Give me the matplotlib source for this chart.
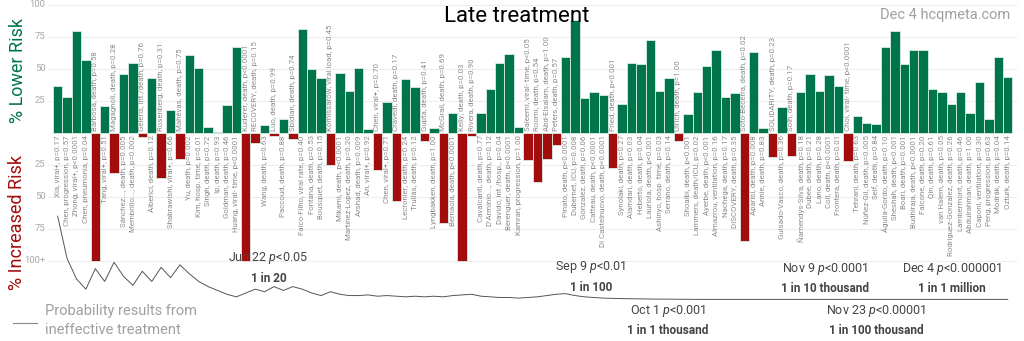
import matplotlib
matplotlib.use('Agg')
import matplotlib.pyplot as plt

plt.rcParams['font.family'] = ['Roboto', 'DejaVu Sans']
plt.rcParams['mathtext.fontset'] = 'custom'
plt.rcParams['mathtext.rm'] = 'Roboto'
plt.rcParams['mathtext.it'] = 'Roboto:italic'
plt.rcParams['mathtext.bf'] = 'Roboto:bold'

studies = [
    "Xia, viral+, p=0.17", "Chen, progression, p=0.57", "Zhong, viral+, p<0.0001",
    "Chen, pneumonia, p=0.04", "Barbosa, death, p=0.58", "Tang, viral+, p=0.51",
    "Magagnoli, death, p=0.28", "Sánchez..., death, p=0.005", "Membrillo..., death, p=0.002",
    "Geleris, int./death, p=0.76", "Alberici, death, p=0.12", "Rosenberg, death, p=0.31",
    "Shabrawishi, viral+, p=0.66", "Mahévas, death, p=0.75", "Yu, death, p=0.002",
    "Kim, hosp. time, p=0.01", "Singh, death, p=0.72", "Ip, death, p=0.93",
    "Goldman, death, p=0.46", "Huang, viral- time, p<0.0001", "Kuderer, death, p<0.0001",
    "RECOVERY, death, p=0.15", "Wang, death, p=0.63", "Luo, death, p=0.99",
    "Paccoud, death, p=0.88", "Sbidian, death, p=0.74", "Faíco-Filho, viral rate, p=0.40",
    "Fontana, death, p=0.53", "Bousquet, death, p=0.15", "Komissarow, viral load, p=0.45",
    "Mikami, death, p<0.0001", "Martinez-Lopez, death, p=0.20", "Arshad, death, p=0.009",
    "An, viral+, p=0.92", "Chen, viral+, p=0.70", "Chen, viral+, p=0.71",
    "Cravedi, death, p=0.17", "Lecronier, death, p=0.24", "Trullàs, death, p=0.12",
    "Gupta, death, p=0.41", "Lyngbakken, death, p=1.00", "McGrail, death, p=0.69",
    "Bernaola, death, p<0.0001", "Kelly, death, p=0.03", "Rivera, death, p=0.90",
    "Cavalcanti, death, p=0.77", "D'Arminio..., death, p=0.12", "Davido, int./hosp., p=0.04",
    "Berenguer, death, p<0.0001", "Kamran, progression, p=1.00", "Saleemi, viral- time, p<0.05",
    "Roomi, death, p=0.54", "Abd-Elsalam, death, p=1.00", "Peters, death, p=0.57",
    "Pinato, death, p<0.0001", "Dubernet, ICU, p=0.008", "Gonzalez, death, p=0.06",
    "Catteau, death, p<0.0001", "Di Castelnuovo, death, p<0.0001", "Fried, death, p<0.001",
    "Synolaki, death, p=0.27", "Alamdari, death, p=0.03", "Heberto, death, p=0.04",
    "Lauriola, death, p<0.001", "Ashinyo, hosp. time, p=0.03", "Serrano, death, p=0.14",
    "Ulrich, death, p=1.00", "Shoaibi, death, p<0.001", "Lammers, death/ICU, p=0.02",
    "Ayerbe, death, p<0.001", "Almazrou, ventilation, p=0.16", "Nachega, death, p=0.17",
    "DISCOVERY, death, p=0.35", "Soto-Becerra, death, p=0.02", "Aparisi, death, p=0.008",
    "Annie, death, p=0.83", "SOLIDARITY, death, p=0.23", "Guisado-Vasco, death, p=0.36",
    "Solh, death, p=0.17", "Ñamendys-Silva, death, p=0.18", "Dubee, death, p=0.21",
    "Lano, death, p=0.28", "Coll, death, p<0.0001", "Frontera, death, p=0.01",
    "Choi, viral- time, p<0.0001", "Tehrani, death, p=0.63", "Núñez-Gil, death, p=0.005",
    "Self, death, p=0.84", "Águila-Gordo, death, p=0.10", "Sheshah, death, p<0.001",
    "Boari, death, p=0.001", "Budhiraja, death, p<0.0001", "Falcone, death, p=0.20",
    "Qin, death, p=0.61", "van Halem, death, p=0.05", "Rodriguez-Gonzalez, death, p=0.26",
    "Lambermont, death, p=0.46", "Abdulrahman, death, p=1.00", "Caponi, ventilation, p=0.30",
    "Peng, progression, p=0.63", "Modrák, death, p=0.04", "Ozturk, death, p=0.14",
]

# % lower risk (negative = increased risk, -100 means 100+)
risk = [
    37, 28, 80, 57, -100, 21, -31, 46, 55, -3,
    43, -35, 18, -20, 61, 51, 5, 1, 22, 67,
    -100, -8, 6, -2, 11, -5, 81, 50, 43, -25,
    47, 33, 51, 3, -29, 24, -53, 42, 36, -6,
    4, -70, 16, -100, -2, 16, 34, 55, 62, 5,
    -21, -38, -20, -9, 59, 88, 27, 32, 30, -27,
    23, 55, 54, 73, 33, 43, -6, 15, 32, 52,
    65, 28, 31, -84, 63, 4, -19, 20, -18, 32,
    46, 33, 45, 37, -22, 13, 8, 7, 67, 80,
    54, 65, 65, 34, 32, 23, 32, 16, 40, 11,
    59, 44,
]

# probability curve (plotted below the bars, same y units)
prob = [
    -65, -98, -114, -122, -106, -116, -101, -112, -119, -108,
    -116, -105, -113, -103, -110, -116, -120, -123, -126, -128,
    -125, -122, -124, -120, -123, -120, -122, -125, -127, -124,
    -126, -127, -127, -126.5, -127.5, -127, -127.5, -128, -127.5, -128,
    -127.5, -128, -127, -126.5, -126, -127.5, -128, -128.5, -128.5, -129,
    -128.5, -128, -127, -126, -125.5, -127, -128, -128.5, -129, -129.2,
    -129.4, -129.5, -129.6, -129.7, -129.8, -129.8, -129.9, -129.9, -130, -130,
    -130, -130, -130, -130, -130, -130, -130, -130, -130, -130,
    -130, -130, -130, -130, -130, -130, -130, -130, -130, -130,
    -130, -130, -130, -130, -130, -130, -130, -130, -130, -130,
    -130, -130,
]

milestones = [
    ("Jun 22 $p$<0.05", "1 in 20", 22.4, -98),
    ("Sep 9 $p$<0.01", "1 in 100", 56.7, -105),
    ("Oct 1 $p$<0.001", "1 in 1 thousand", 64.9, -139),
    ("Nov 9 $p$<0.0001", "1 in 10 thousand", 81.6, -106),
    ("Dec 4 $p$<0.000001", "1 in 1 million", 95.1, -106),
    ("Nov 23 $p$<0.00001", "1 in 100 thousand", 87.0, -139),
]

green = '#00744a'
red = '#a30c0c'
grey = '#a0a0a0'

fig = plt.figure(figsize=(10.24, 3.41), dpi=100)
ax = fig.add_axes([0, 0, 1, 1])
ax.set_xlim(-6.13, 102.73)
ax.set_ylim(-162.5, 103.9)
ax.axis('off')

x = list(range(len(risk)))

for v in [100, 75, 50, 25, -25, -50, -75, -100]:
    ax.hlines(v, -1.0, 102.0, color='#ededf2', lw=0.8, zorder=0)
    lab = '100+' if v == -100 else str(abs(v))
    ax.text(-1.3, v, lab, ha='right', va='center', fontsize=6.8, color='#a8a8a8')

cols = [green if v > 0 else red for v in risk]
ax.bar(x, risk, width=1.0, color=cols, edgecolor='#d8ece2', linewidth=0.6, zorder=2)

for i, (lab, v) in enumerate(zip(studies, risk)):
    if v > 0:
        ax.text(i, -1.8, lab, rotation=90, ha='center', va='top',
                fontsize=5.7, color='#8c8c8c', zorder=3)
    else:
        ax.text(i, 1.8, lab, rotation=90, ha='center', va='bottom',
                fontsize=5.7, color='#8c8c8c', zorder=3)

ax.plot(x, prob, color='#555555', lw=0.7, zorder=3)

for top, bottom, mx, my in milestones:
    ax.text(mx, my, top, ha='center', va='center', fontsize=9, color='#444444')
    ax.text(mx, my - 15.5, bottom, ha='center', va='center', fontsize=8.5,
            fontweight='bold', color='#444444')

ax.text(48.8, 91, 'Late treatment', ha='center', va='center', fontsize=16, color='black')
ax.text(101.3, 92.5, 'Dec 4 hcqmeta.com', ha='right', va='center', fontsize=10.5, color=grey)

ax.text(-4.2, 49, '% Lower Risk', rotation=90, ha='center', va='center',
        fontsize=13, color=green)
ax.text(-4.3, -70, '% Increased Risk', rotation=90, ha='center', va='center',
        fontsize=13, color=red)

ax.plot([-4.75, -2.2], [-148.5, -148.5], color='#888888', lw=0.8)
ax.text(-1.35, -139, 'Probability results from', ha='left', va='center',
        fontsize=10.5, color=grey)
ax.text(-1.35, -154, 'ineffective treatment', ha='left', va='center',
        fontsize=10.5, color=grey)

fig.savefig('out.png', dpi=100)
